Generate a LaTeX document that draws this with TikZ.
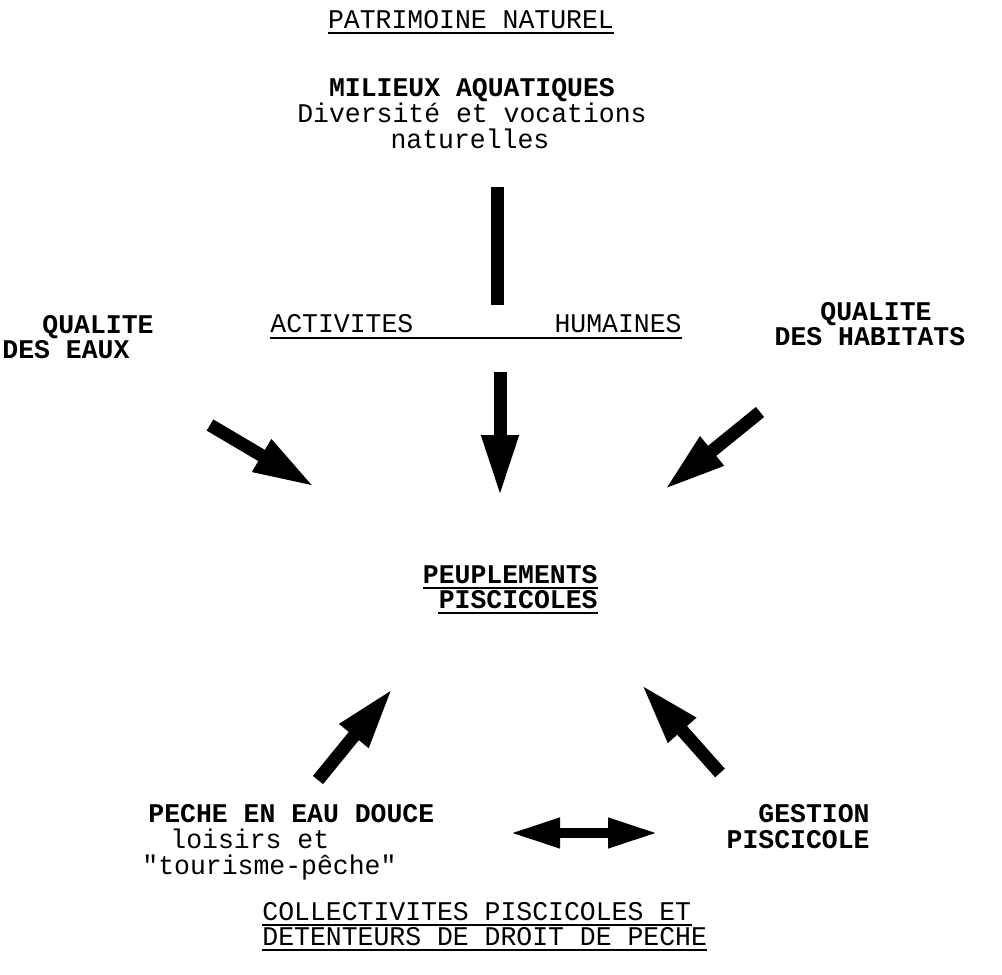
\documentclass[tikz,border=0pt]{standalone}
\usepackage{fontspec}
\newfontfamily\typewr[FakeStretch=0.98]{Liberation Mono}
\usetikzlibrary{arrows.meta, positioning}

\newcommand\twfont{\fontsize{13.5}{14}\selectfont\typewr}
\newcommand\twbold{\fontsize{13.5}{14}\selectfont\typewr\bfseries}

\begin{document}
\begin{tikzpicture}[x=0.5pt, y=-0.5pt,
    txt/.style={inner sep=0pt, font=\twfont},
    txtb/.style={inner sep=0pt, font=\twbold},
    fat/.style={line width=6.5pt, -{Triangle[length=31pt,width=17pt]}},
    fatbar/.style={line width=6.5pt},
    twin/.style={line width=5pt, {Triangle[length=25pt,width=14pt]}-{Triangle[length=25pt,width=14pt]}},
    ul/.style={line width=0.8pt}]
    \useasboundingbox (0,0) rectangle (1002,975);

    % haut
    \node[txt, anchor=base] (pat) at (471,28) {PATRIMOINE NATUREL};
    \node[txtb, anchor=base] (mil) at (472,96) {MILIEUX AQUATIQUES};
    \node[txt, anchor=base] (div) at (472,122) {Diversité et vocations};
    \node[txt, anchor=base] (nat) at (470,148) {naturelles};

    % facteurs
    \node[txtb, anchor=base west] (qe1) at (42,333) {QUALITE};
    \node[txtb, anchor=base west] (qe2) at (2,358) {DES EAUX};
    \node[txt, anchor=base west] (act) at (270,332) {ACTIVITES};
    \node[txt, anchor=base east] (hum) at (682,332) {HUMAINES};
    \node[txtb, anchor=base] (qh1) at (876,320) {QUALITE};
    \node[txtb, anchor=base] (qh2) at (870,345) {DES HABITATS};

    % centre
    \node[txtb, anchor=base east] (peu) at (598,583) {PEUPLEMENTS};
    \node[txtb, anchor=base east] (pis) at (598,608) {PISCICOLES};

    % bas
    \node[txtb, anchor=base west] (pe1) at (148,822) {PECHE EN EAU DOUCE};
    \node[txt, anchor=base west] (pe2) at (170,848) {loisirs et};
    \node[txt, anchor=base west] (pe3) at (142,874) {"tourisme-pêche"};
    \node[txtb, anchor=base east] (ge1) at (870,822) {GESTION};
    \node[txtb, anchor=base east] (ge2) at (870,848) {PISCICOLE};
    \node[txt, anchor=base west] (col) at (262,920) {COLLECTIVITES PISCICOLES ET};
    \node[txt, anchor=base west] (det) at (262,945) {DETENTEURS DE DROIT DE PECHE};

    % soulignements
    \foreach \n in {pat, peu, pis, col, det}
        \draw[ul] ([yshift=-2.5pt]\n.base west) -- ([yshift=-2.5pt]\n.base east);
    \draw[ul] ([yshift=-3pt]act.base west) -- ([yshift=-3pt]hum.base east);

    % extremites des fleches
    \coordinate (bar1) at (497,187);
    \coordinate (bar2) at (497,305);
    \coordinate (d1) at (500,372);
    \coordinate (d2) at (500,497);
    \coordinate (l1) at (210,425);
    \coordinate (l2) at (315,487);
    \coordinate (r1) at (760,412);
    \coordinate (r2) at (664,490);
    \coordinate (bl1) at (318,780);
    \coordinate (bl2) at (393,688);
    \coordinate (br1) at (720,773);
    \coordinate (br2) at (641,684);
    \coordinate (h1) at (510,833);
    \coordinate (h2) at (658,833);

    \draw[fatbar] (bar1) -- (bar2);
    \draw[fat] (d1) -- (d2);
    \draw[fat] (l1) -- (l2);
    \draw[fat] (r1) -- (r2);
    \draw[fat] (bl1) -- (bl2);
    \draw[fat] (br1) -- (br2);
    \draw[twin] (h1) -- (h2);
\end{tikzpicture}
\end{document}
